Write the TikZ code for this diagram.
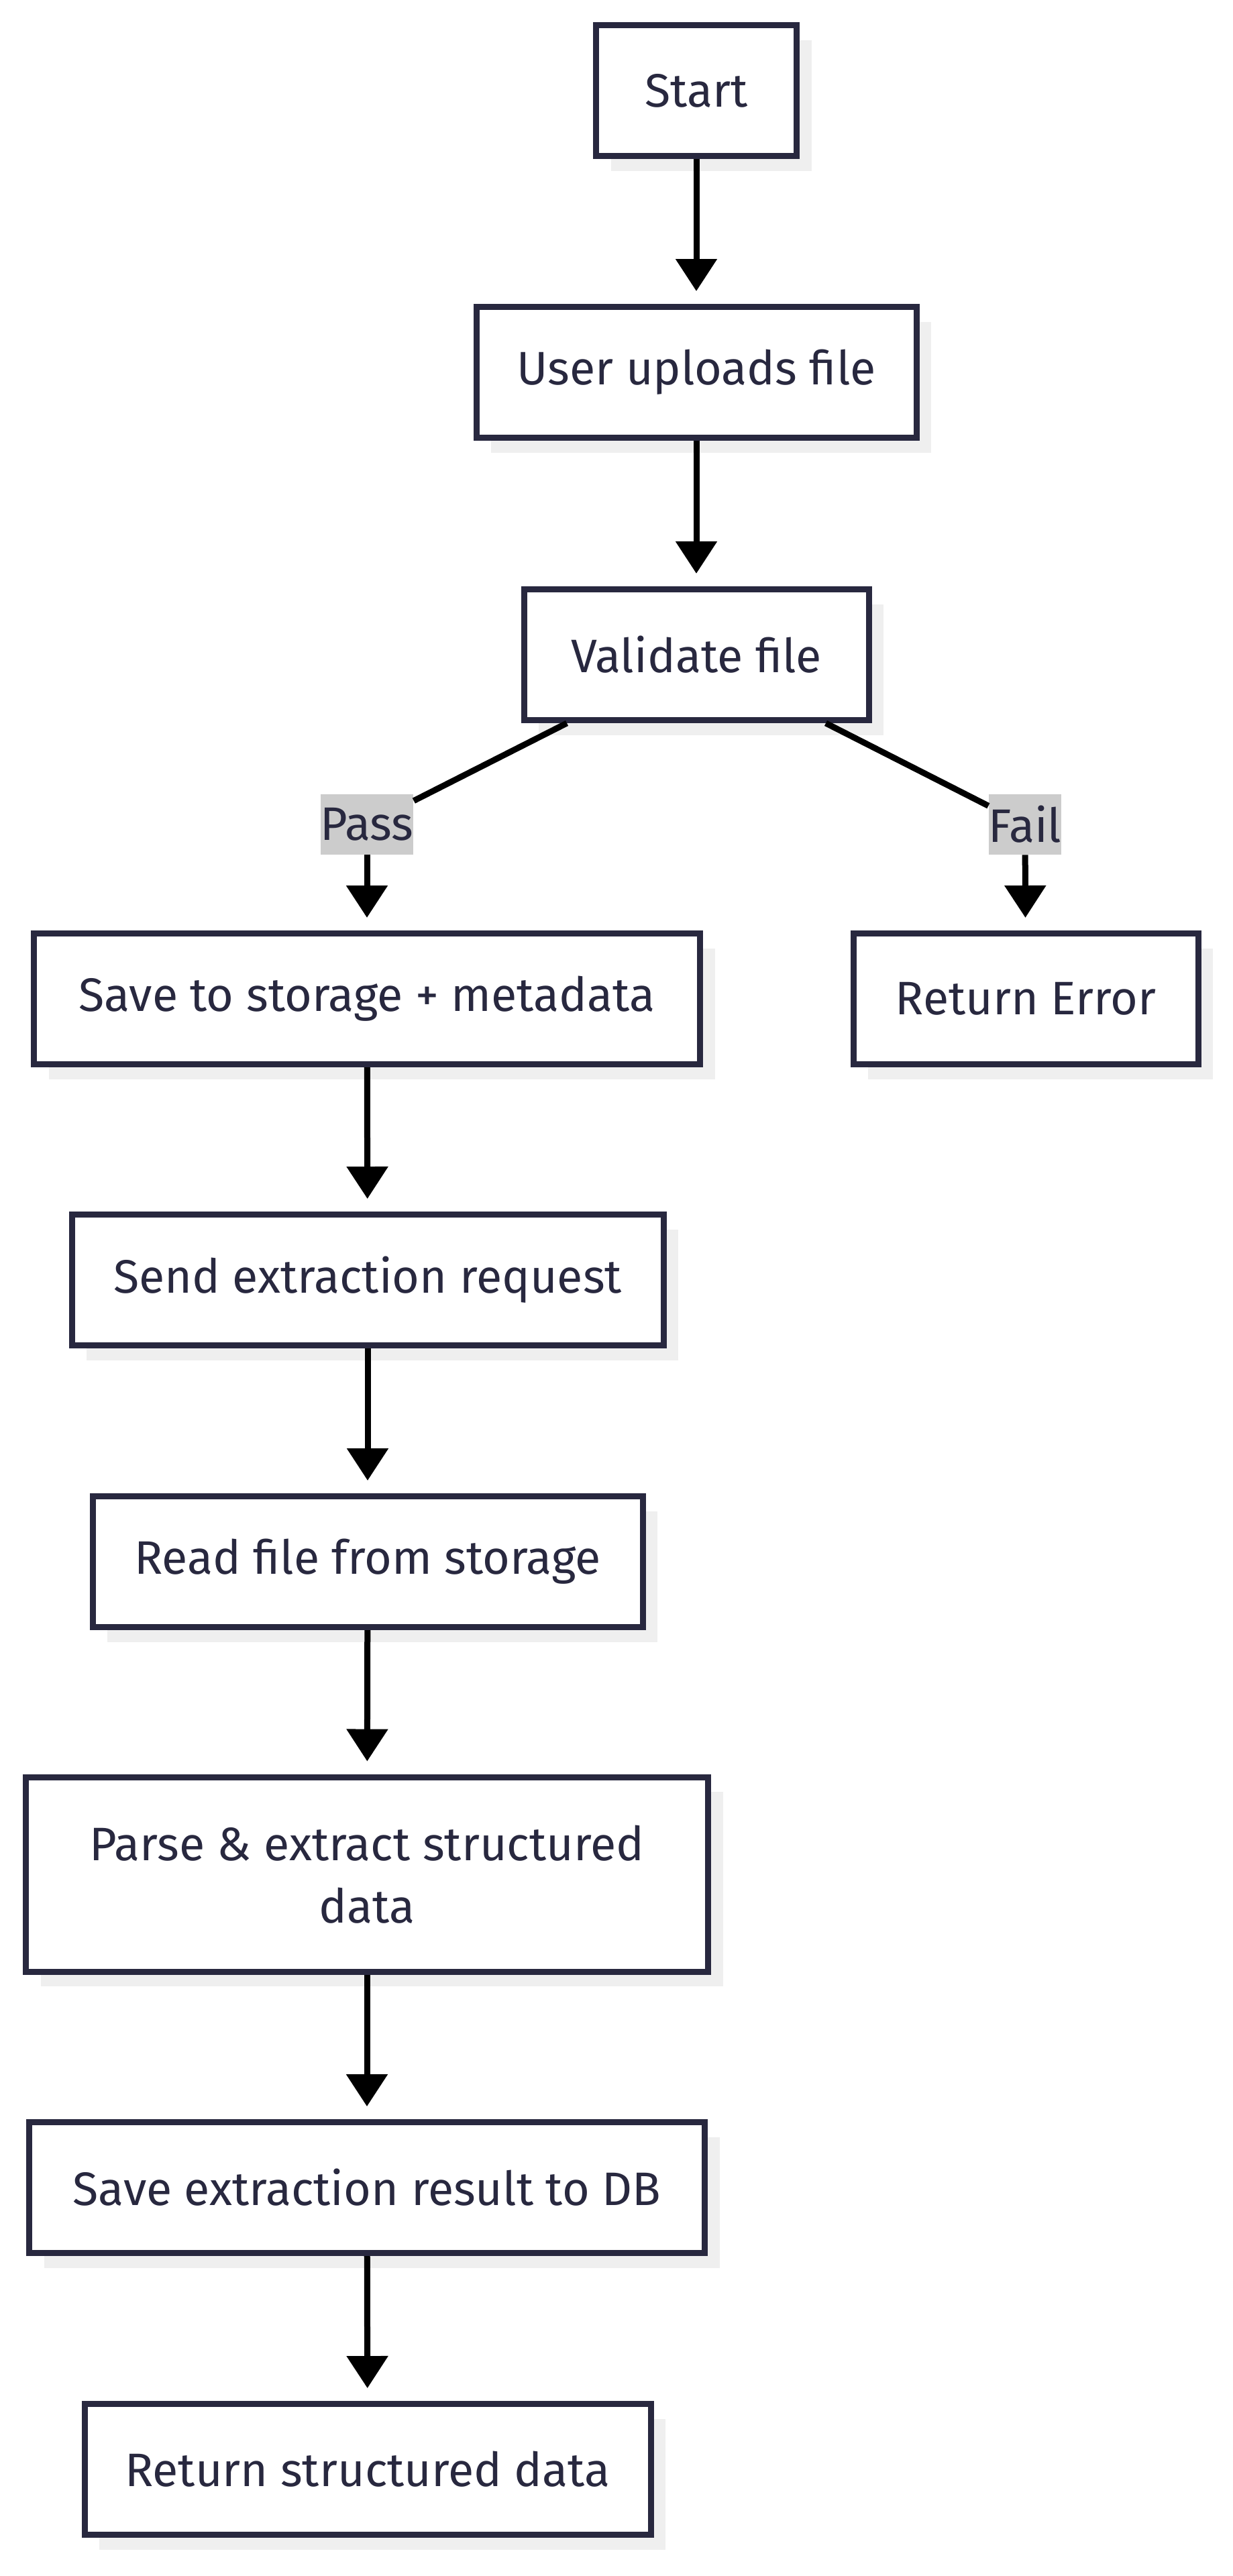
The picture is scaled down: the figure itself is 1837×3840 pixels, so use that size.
\documentclass[tikz,border=0pt]{standalone}
\usepackage{fontspec}
\setmainfont{Fira Sans}
\usetikzlibrary{arrows.meta,shadows}
\definecolor{rand}{HTML}{28283F}
\definecolor{schatten}{HTML}{EFEFEF}
\definecolor{etikett}{HTML}{CCCCCC}
\tikzset{
  kasten/.style={draw=rand, line width=4.5pt, fill=white, text=rand, inner sep=0pt,
    minimum height=97.5pt, align=center, font=\fontsize{35}{46.5}\selectfont,
    drop shadow={shadow xshift=11pt, shadow yshift=-11pt, fill=schatten, opacity=1}},
  marke/.style={fill=etikett, text=rand, inner xsep=0pt, inner ysep=0pt,
    minimum height=45pt, font=\fontsize{35}{40}\selectfont},
  linie/.style={line width=4.5pt, draw=black},
  pfeil/.style={linie, -{Triangle[length=24pt,width=30pt]}, shorten >=9.5pt}
}
\begin{document}
\begin{tikzpicture}[x=0.5pt,y=-0.5pt]
        \useasboundingbox (0,0) rectangle (1837,3840);
        % Knoten
        \node[kasten, minimum width=149.5pt] (start) at (1038,135) {Start};
        \node[kasten, minimum width=328pt] (upload) at (1038,555) {User uploads file};
        \node[kasten, minimum width=257pt] (valid) at (1038,976) {Validate file};
        \node[kasten, minimum width=496.5pt] (speichern) at (547,1489) {Save to storage + metadata};
        \node[kasten, minimum width=257pt] (fehler) at (1529,1489) {Return Error};
        \node[kasten, minimum width=441pt] (anfrage) at (548,1908) {Send extraction request};
        \node[kasten, minimum width=410pt] (lesen) at (548,2328) {Read file from storage};
        \node[kasten, minimum width=508.5pt, minimum height=145pt] (parsen) at (547,2794) {Parse \& extract structured\\data};
        \node[kasten, minimum width=503.5pt] (ergebnis) at (547,3261) {Save extraction result to DB};
        \node[kasten, minimum width=422pt] (rueckgabe) at (548,3681) {Return structured data};
        % Beschriftung
        \node[marke] (pass) at (547,1229) {Pass};
        \node[marke] (fail) at (1528,1229) {Fail};
        \coordinate (vl) at ([xshift=-96.5pt]valid.south);
        \coordinate (vr) at ([xshift=96.5pt]valid.south);
        % Pfeile
        \draw[pfeil] (start) -- (upload);
        \draw[pfeil] (upload) -- (valid);
        \draw[linie] (vl) -- (pass);
        \draw[pfeil] (pass) -- (speichern);
        \draw[linie] (vr) -- (fail);
        \draw[pfeil] (fail) -- (fehler);
        \draw[pfeil] (speichern) -- (anfrage);
        \draw[pfeil] (anfrage) -- (lesen);
        \draw[pfeil] (lesen) -- (parsen);
        \draw[pfeil] (parsen) -- (ergebnis);
        \draw[pfeil] (ergebnis) -- (rueckgabe);
    \end{tikzpicture}
\end{document}
